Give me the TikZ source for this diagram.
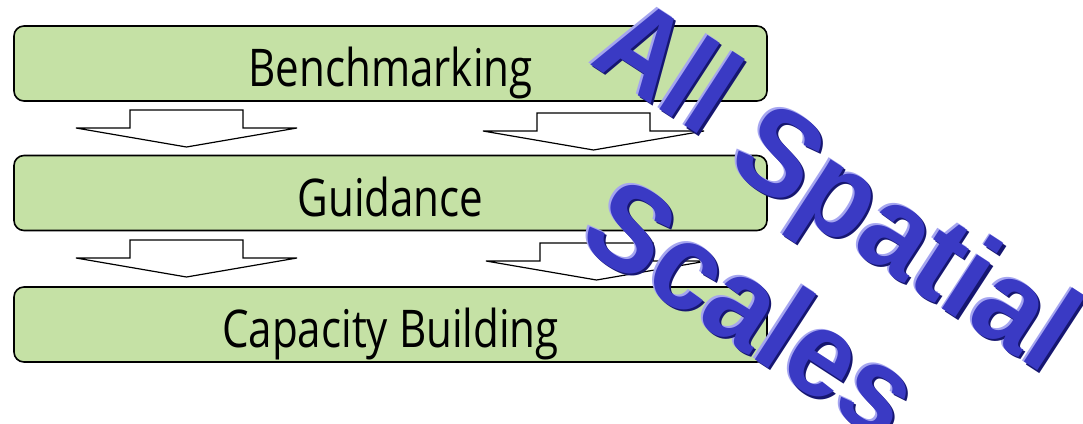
\documentclass[tikz,border=0pt]{standalone}
\usepackage{fontspec}
\setmainfont{Open Sans}
\newfontfamily\wordart{Liberation Sans}
\usepackage{xcolor}
\usepackage{graphicx}

\definecolor{boxgreen}{RGB}{197,225,165}
\definecolor{artblue}{RGB}{58,58,196}
\definecolor{artdark}{RGB}{22,22,112}
\definecolor{artlight}{RGB}{165,165,240}

\newcommand{\stagetext}[1]{\scalebox{0.81}[1]{#1}}

\tikzset{
  stage/.style={draw=black, line width=1.6pt, fill=boxgreen, rounded corners=10pt,
    minimum width=753pt, minimum height=75pt, text height=46pt, text depth=0pt,
    font=\fontsize{52}{52}\selectfont},
  blockarrow/.style={draw=black, line width=1.2pt, fill=white},
  art/.style={rotate=-33, anchor=base west, inner sep=0pt,
    font=\wordart\bfseries\fontsize{122}{122}\selectfont}
}

\begin{document}
\begin{tikzpicture}[x=1pt, y=-1pt]
    \useasboundingbox (0,0) rectangle (1083,423);

    % hollow block arrows between the stages
    \foreach \sx/\sy in {130/110, 537/113, 130/240, 540/243}
    \draw[blockarrow] (\sx,\sy) -- ++(0,18) -- ++(-54,0) -- ++(110.5,19)
      -- ++(110.5,-19) -- ++(-54,0) -- ++(0,-18) -- cycle;

    \node[stage] (bench) at (390.5,63.5) {\stagetext{Benchmarking}};
    \node[stage] (guide) at (390.5,193) {\stagetext{Guidance}};
    \node[stage] (capacity) at (390.5,324.5) {\stagetext{Capacity Building}};

    % word art, drawn three times for the bevel
    \foreach \w/\px/\py/\xs in {All/588/63/0.88, Spatial/724/167/0.955, Scales/575/243/0.95} {
    \node[art, xscale=\xs, text=artlight] (\w-light) at (\px-1.5,\py-1.5) {\w};
    \node[art, xscale=\xs, text=artdark] (\w-dark) at (\px+2.5,\py+2.5) {\w};
    \node[art, xscale=\xs, text=artblue] (\w) at (\px,\py) {\w};
    }
\end{tikzpicture}
\end{document}
